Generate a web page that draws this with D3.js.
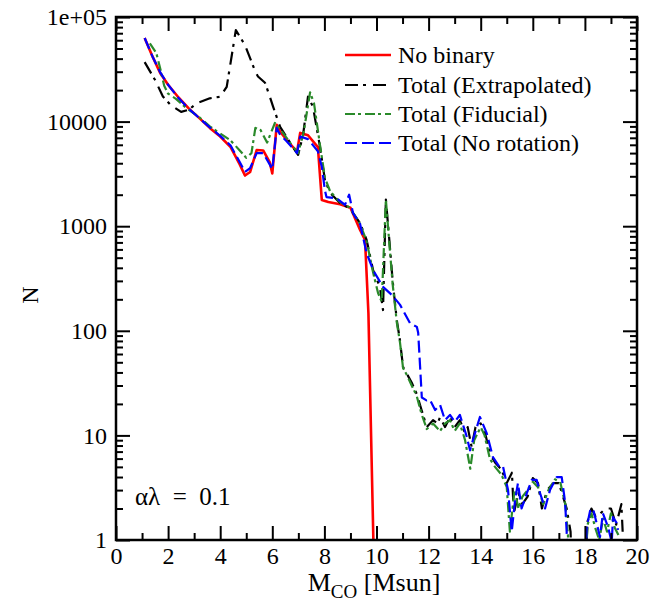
<!DOCTYPE html>
<html>
<head>
<meta charset="utf-8">
<script src="https://cdn.jsdelivr.net/npm/d3@7"></script>
<style>
  body { margin: 0; background: #fff; }
  text { font-family: "Liberation Serif", "Times New Roman", serif; fill: #000; }
</style>
</head>
<body>
<svg id="chart" width="651" height="605"></svg>
<script>
// Chart data
// Masses are M_CO in Msun, counts are N per bin. Values < 1 mean empty bins (drawn below the axis).
const noBinaryM = [1.1, 1.4, 1.7, 2.0, 2.4, 2.8, 3.2, 3.6, 4.0, 4.4, 4.75, 4.95, 5.15, 5.4, 5.65, 5.9, 6.0, 6.17, 6.3, 6.55, 6.95, 7.07, 7.37, 7.75, 7.9, 8.15, 8.6, 9.0, 9.37, 9.56, 9.69, 9.88];
const noBinaryN = [63000, 42000, 29000, 22500, 17000, 13300, 10800, 8700, 7200, 5700, 3900, 3050, 3300, 5350, 5300, 4100, 3200, 9300, 8000, 6700, 5150, 7800, 7400, 5700, 1780, 1700, 1620, 1500, 920, 740, 147, 1];

const extrapM = [1.1, 1.5, 1.8, 2.1, 2.5, 2.8, 3.1, 3.6, 4.0, 4.25, 4.6, 4.95, 5.35, 5.45, 5.72, 5.85, 6.03, 6.2, 6.3, 6.68, 6.99, 7.18, 7.37, 7.56, 7.83, 8.02, 8.22, 8.6, 8.98, 9.37, 9.62, 9.87, 10.13, 10.25, 10.36, 10.5, 10.62, 10.78, 10.9, 11.02, 11.16, 11.35, 11.54, 11.73, 11.93, 12.17, 12.35, 12.44, 12.63, 12.82, 13.0, 13.2, 13.4, 13.5, 13.65, 13.8, 14.0, 14.15, 14.35, 14.55, 14.8, 15.0, 15.2, 15.27, 15.45, 15.6, 15.8, 16.0, 16.2, 16.35, 16.55, 16.8, 17.0, 17.3, 17.45, 17.5, 18.0, 18.1, 18.25, 18.4, 18.6, 18.8, 19.0, 19.2, 19.4, 19.45];
const extrapN = [37000, 25000, 17400, 14400, 12400, 13000, 15000, 16700, 17300, 21500, 75000, 54000, 30000, 27000, 23500, 19000, 13900, 10500, 8900, 6300, 4800, 7400, 17300, 13900, 5750, 2760, 2080, 1670, 1470, 1070, 740, 380, 263, 158, 1800, 700, 300, 126, 81, 45, 39, 32, 25, 17.5, 12, 14, 13, 15, 12, 15, 12, 14, 10.5, 12, 7.8, 12, 13, 11, 6.8, 5.5, 4.7, 3.5, 4.4, 1.8, 2.8, 2.2, 2.6, 3.9, 3.5, 2, 3, 3.5, 3.5, 2, 1.2, 0.4, 0.4, 1.5, 2, 1.7, 1.8, 2, 2, 1.4, 2.2, 1.2];

const fiducialM = [1.3, 1.55, 1.7, 1.85, 2.0, 2.3, 2.7, 3.2, 3.6, 4.0, 4.4, 4.75, 5.0, 5.2, 5.35, 5.55, 5.8, 6.1, 6.3, 6.68, 6.99, 7.2, 7.45, 7.6, 7.83, 8.02, 8.22, 8.6, 8.98, 9.37, 9.62, 9.87, 10.06, 10.2, 10.36, 10.5, 10.62, 10.78, 10.9, 11.02, 11.16, 11.35, 11.54, 11.73, 11.93, 12.17, 12.44, 12.63, 12.82, 13.0, 13.2, 13.4, 13.6, 13.75, 14.0, 14.15, 14.35, 14.55, 14.8, 15.0, 15.12, 15.3, 15.45, 15.6, 15.8, 16.0, 16.2, 16.4, 16.6, 16.85, 17.05, 17.25, 17.35, 17.4, 18.0, 18.1, 18.25, 18.4, 18.55, 18.7, 18.85, 19.0, 19.15, 19.3];
const fiducialN = [56000, 45000, 32000, 22000, 18500, 16500, 13500, 11000, 9000, 7700, 6600, 5300, 4500, 5000, 8700, 8300, 6300, 9700, 8500, 6300, 5000, 7800, 19000, 15000, 6000, 2900, 2150, 1700, 1500, 1050, 720, 360, 230, 190, 1800, 650, 280, 120, 78, 44, 38, 30, 24, 16, 11.5, 13, 11, 13, 14, 11, 13, 9, 4.8, 9, 12, 10, 6, 5, 4.2, 3.2, 1.2, 3, 2, 2.6, 3, 3.6, 3.2, 2.2, 3, 3.8, 3.6, 2.2, 1.1, 0.4, 0.4, 1.4, 1.8, 1.3, 1, 1.6, 1.2, 1.8, 1.3, 1.1];

const noRotM = [1.1, 1.4, 1.7, 2.0, 2.4, 2.8, 3.2, 3.6, 4.0, 4.4, 4.75, 4.95, 5.15, 5.4, 5.65, 5.9, 6.0, 6.17, 6.3, 6.55, 6.95, 7.07, 7.37, 7.75, 7.9, 8.02, 8.08, 8.47, 8.79, 8.95, 9.1, 9.37, 9.62, 9.87, 10.25, 10.59, 10.9, 11.29, 11.55, 11.6, 11.74, 11.92, 12.05, 12.25, 12.44, 12.63, 12.82, 13.01, 13.2, 13.45, 13.59, 13.7, 13.97, 14.23, 14.47, 14.74, 14.86, 15.05, 15.19, 15.32, 15.43, 15.57, 15.77, 15.96, 16.15, 16.28, 16.47, 16.66, 16.92, 17.11, 17.24, 17.3, 17.38, 18.0, 18.07, 18.2, 18.31, 18.45, 18.58, 18.69, 18.89, 19.03, 19.08, 19.22, 19.27];
const noRotN = [63000, 42000, 29500, 22500, 16800, 13200, 10800, 8800, 7300, 5900, 4100, 3300, 3600, 5000, 5000, 3900, 3500, 8700, 7500, 6500, 5000, 7200, 6800, 5200, 3700, 2200, 1900, 1850, 1600, 2000, 1330, 1050, 555, 380, 263, 220, 178, 118, 109, 96, 23, 21.6, 22, 17.5, 19.6, 14, 15.7, 13.5, 15.7, 10, 7.2, 9, 15, 10.5, 6.2, 4.9, 5, 3, 1.2, 2.4, 3.5, 2, 2.8, 3.75, 3.75, 2.8, 2, 3, 4, 4, 2.3, 1.2, 0.4, 0.4, 1.33, 1.9, 2, 1.45, 1.07, 1.8, 1.33, 0.95, 1.66, 1.45, 1.25];

const seriesNames = ['No binary', 'Total (Extrapolated)', 'Total (Fiducial)', 'Total (No rotation)'];
const seriesColors = ['#ff0000', '#000000', '#2a8a2a', '#0000ff'];
const seriesDash = ['none', '13,5,3,7', '10,3,3,4', '12,5'];

const xMajorTicks = [0, 2, 4, 6, 8, 10, 12, 14, 16, 18, 20];
const yMajorTicks = [1, 10, 100, 1000, 10000, 100000];
const yTickLabels = ['1', '10', '100', '1000', '10000', '1e+05'];

// Layout
const svg = d3.select('#chart');
const plotLeft = 116, plotRight = 637, plotTop = 17, plotBottom = 540;

const x = d3.scaleLinear().domain([0, 20]).range([plotLeft, plotRight]);
const y = d3.scaleLog().domain([1, 1e5]).range([plotBottom, plotTop]);

// minor ticks
const xMinor = d3.range(1, 20, 2);
const yMinor = [];
for (let d = 1; d < 1e5; d *= 10) {
  for (let k = 2; k <= 9; k++) yMinor.push(d * k);
}

// Clip for data lines
svg.append('defs').append('clipPath').attr('id', 'plotclip')
  .append('rect').attr('x', plotLeft).attr('y', plotTop)
  .attr('width', plotRight - plotLeft).attr('height', plotBottom - plotTop);

// Draw series
const seriesData = [
  d3.zip(noBinaryM, noBinaryN),
  d3.zip(extrapM, extrapN),
  d3.zip(fiducialM, fiducialN),
  d3.zip(noRotM, noRotN)
];

const line = d3.line()
  .x(d => x(d[0]))
  .y(d => y(Math.max(d[1], 0.3)));

const lines = svg.append('g').attr('clip-path', 'url(#plotclip)');
seriesData.forEach((pts, i) => {
  lines.append('path')
    .datum(pts)
    .attr('d', line)
    .attr('fill', 'none')
    .attr('stroke', seriesColors[i])
    .attr('stroke-width', i === 0 ? 2.6 : 2.2)
    .attr('stroke-dasharray', seriesDash[i])
    .attr('stroke-linejoin', 'round');
});

// Axes (ticks inward)
function styleAxis(g) {
  g.select('.domain').remove();
  g.selectAll('line').attr('stroke', '#000').attr('stroke-width', 2);
  g.selectAll('text').style('font-family', '"Liberation Serif", "Times New Roman", serif')
    .style('font-size', '24px').attr('fill', '#000');
}

svg.append('g').attr('transform', `translate(0,${plotBottom})`)
  .call(d3.axisBottom(x).tickValues(xMajorTicks).tickSize(-14).tickPadding(7).tickFormat(d3.format('d')))
  .call(styleAxis);
svg.append('g').attr('transform', `translate(0,${plotBottom})`)
  .call(d3.axisBottom(x).tickValues(xMinor).tickSize(-7).tickFormat(''))
  .call(styleAxis);
svg.append('g').attr('transform', `translate(0,${plotTop})`)
  .call(d3.axisTop(x).tickValues(xMajorTicks).tickSize(-14).tickFormat(''))
  .call(styleAxis);
svg.append('g').attr('transform', `translate(0,${plotTop})`)
  .call(d3.axisTop(x).tickValues(xMinor).tickSize(-7).tickFormat(''))
  .call(styleAxis);

svg.append('g').attr('transform', `translate(${plotLeft},0)`)
  .call(d3.axisLeft(y).tickValues(yMajorTicks).tickSize(-14).tickPadding(9)
    .tickFormat((d, i) => yTickLabels[i]))
  .call(styleAxis);
svg.append('g').attr('transform', `translate(${plotLeft},0)`)
  .call(d3.axisLeft(y).tickValues(yMinor).tickSize(-7).tickFormat(''))
  .call(styleAxis);
svg.append('g').attr('transform', `translate(${plotRight},0)`)
  .call(d3.axisRight(y).tickValues(yMajorTicks).tickSize(-14).tickFormat(''))
  .call(styleAxis);
svg.append('g').attr('transform', `translate(${plotRight},0)`)
  .call(d3.axisRight(y).tickValues(yMinor).tickSize(-7).tickFormat(''))
  .call(styleAxis);

// Frame
svg.append('rect')
  .attr('x', plotLeft).attr('y', plotTop)
  .attr('width', plotRight - plotLeft).attr('height', plotBottom - plotTop)
  .attr('fill', 'none').attr('stroke', '#000').attr('stroke-width', 2.5);

// Axis titles
const xt = svg.append('text')
  .attr('x', 374).attr('y', 591)
  .attr('text-anchor', 'middle')
  .style('font-size', '26px');
xt.append('tspan').text('M');
xt.append('tspan').attr('dy', 7).style('font-size', '19px').text('CO');
xt.append('tspan').attr('dy', -7).text(' [Msun]');

svg.append('text')
  .attr('transform', 'translate(38,295) rotate(-90)')
  .attr('text-anchor', 'middle')
  .style('font-size', '24px')
  .text('N');

// Annotation
svg.append('text')
  .attr('x', 135).attr('y', 505)
  .style('font-size', '25px')
  .text('αλ\u2002=\u20020.1');

// Legend
const legendY = [55, 85, 114, 143];
const legend = svg.append('g');
seriesNames.forEach((name, i) => {
  legend.append('line')
    .attr('x1', 345).attr('x2', 391)
    .attr('y1', legendY[i]).attr('y2', legendY[i])
    .attr('stroke', seriesColors[i])
    .attr('stroke-width', i === 0 ? 2.6 : 2.2)
    .attr('stroke-dasharray', seriesDash[i]);
  legend.append('text')
    .attr('x', 398).attr('y', legendY[i] + 8)
    .style('font-size', '24px')
    .text(name);
});
</script>
</body>
</html>
